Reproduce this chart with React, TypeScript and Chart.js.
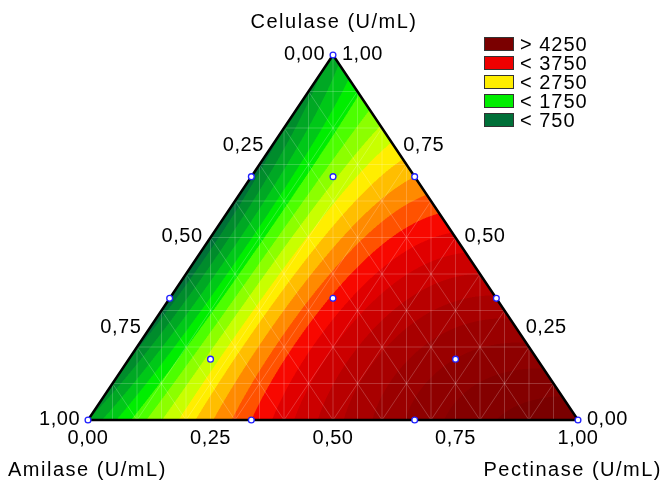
import { useEffect, useRef } from "react";
import { Chart, registerables } from "chart.js";

Chart.register(...registerables);

// ---- data ----
const componentNames = ["Amilase (U/mL)", "Celulase (U/mL)", "Pectinase (U/mL)"];
const tickValues = [0, 0.25, 0.5, 0.75, 1];
const tickLabels = ["0,00", "0,25", "0,50", "0,75", "1,00"];

// design points (mixture proportions)
const designAmilase = [1, 0, 0, 0.6667, 0.3333, 0, 0, 0.6667, 0.3333, 0.3333, 0.1667, 0.6667, 0.1667];
const designCelulase = [0, 1, 0, 0.3333, 0.6667, 0.6667, 0.3333, 0, 0, 0.3333, 0.6667, 0.1667, 0.1667];
const designPectinase = [0, 0, 1, 0, 0, 0.3333, 0.6667, 0.3333, 0.6667, 0.3333, 0.1667, 0.1667, 0.6667];

// fitted special-cubic mixture model
const linearCoef = [1000, 1100, 5700]; // Amilase, Celulase, Pectinase
const binaryCoef = [-2000, 4200, 1650]; // A·C, A·P, C·P
const ternaryCoef = [14000]; // A·C·P

const contourLevels = [750, 1000, 1250, 1500, 1750, 2000, 2250, 2500, 2750, 3000, 3250, 3500, 3750, 4000, 4250, 4500, 4750, 5000, 5250, 5500];
const bandColors = [
  "#007038", "#008c2c", "#00a824", "#00c818", "#00ee00", "#4cff00", "#8cff00", "#c8ff00",
  "#ffee00", "#ffbe00", "#ff8a00", "#ff5200", "#f80800", "#e00000", "#cc0000", "#b80000",
  "#a80000", "#9a0000", "#8e0000", "#840000", "#7a0000",
];

const legendLabels = ["> 4250", "< 3750", "< 2750", "< 1750", "< 750"];
const legendColors = ["#7a0000", "#ee0000", "#ffee00", "#00ee00", "#007038"];

const FONT = "'Liberation Sans', Arial, sans-serif";

function model(a: number, c: number, p: number) {
  return (
    linearCoef[0] * a + linearCoef[1] * c + linearCoef[2] * p +
    binaryCoef[0] * a * c + binaryCoef[1] * a * p + binaryCoef[2] * c * p +
    ternaryCoef[0] * a * c * p
  );
}

function hexToRgb(h: string) {
  const n = parseInt(h.slice(1), 16);
  return [(n >> 16) & 255, (n >> 8) & 255, n & 255];
}

const ternaryPlugin = {
  id: "ternary",
  beforeDatasetsDraw(chart: any) {
    const { ctx, chartArea, scales } = chart;
    const xs = scales.x;
    const ys = scales.y;
    const toPx = (a: number, c: number, p: number) => [xs.getPixelForValue(p + c / 2), ys.getPixelForValue(c)];

    const l = Math.floor(chartArea.left);
    const t = Math.floor(chartArea.top);
    const w = Math.ceil(chartArea.right) - l + 1;
    const h = Math.ceil(chartArea.bottom) - t + 1;
    const off = document.createElement("canvas");
    off.width = w;
    off.height = h;
    const octx = off.getContext("2d")!;
    const img = octx.createImageData(w, h);
    const rgb = bandColors.map(hexToRgb);
    const ss = [0.25, 0.75];
    for (let j = 0; j < h; j++) {
      for (let i = 0; i < w; i++) {
        let r = 0, g = 0, b = 0, n = 0;
        for (const dy of ss) {
          for (const dx of ss) {
            const X = xs.getValueForPixel(l + i + dx);
            const C = ys.getValueForPixel(t + j + dy);
            const P = X - C / 2;
            const A = 1 - C - P;
            if (A < -1e-6 || C < -1e-6 || P < -1e-6) continue;
            const v = model(A, C, P);
            let k = 0;
            while (k < contourLevels.length && v >= contourLevels[k]) k++;
            const col = rgb[k];
            r += col[0]; g += col[1]; b += col[2]; n++;
          }
        }
        if (n > 0) {
          const idx = (j * w + i) * 4;
          img.data[idx] = r / n;
          img.data[idx + 1] = g / n;
          img.data[idx + 2] = b / n;
          img.data[idx + 3] = (255 * n) / 4;
        }
      }
    }
    octx.putImageData(img, 0, 0);
    ctx.save();
    ctx.drawImage(off, l, t);

    // faint mesh
    ctx.strokeStyle = "rgba(255,255,255,0.26)";
    ctx.lineWidth = 0.8;
    const line = (p1: number[], p2: number[]) => {
      ctx.beginPath();
      ctx.moveTo(p1[0], p1[1]);
      ctx.lineTo(p2[0], p2[1]);
      ctx.stroke();
    };
    for (let k = 1; k < 10; k++) {
      const s = k / 10;
      line(toPx(1 - s, s, 0), toPx(0, s, 1 - s));
      line(toPx(s, 1 - s, 0), toPx(s, 0, 1 - s));
      line(toPx(0, 1 - s, s), toPx(1 - s, 0, s));
    }
    for (let k = -9; k <= 9; k++) {
      const d = k / 10;
      const X = (1 + d) / 2;
      ctx.beginPath();
      ctx.moveTo(xs.getPixelForValue(X), ys.getPixelForValue(0));
      ctx.lineTo(xs.getPixelForValue(X), ys.getPixelForValue(1 - Math.abs(d)));
      ctx.stroke();
    }

    // outline
    const v1 = toPx(0, 1, 0), v2 = toPx(1, 0, 0), v3 = toPx(0, 0, 1);
    ctx.beginPath();
    ctx.moveTo(v1[0], v1[1]);
    ctx.lineTo(v2[0], v2[1]);
    ctx.lineTo(v3[0], v3[1]);
    ctx.closePath();
    ctx.strokeStyle = "#000";
    ctx.lineWidth = 2.5;
    ctx.lineJoin = "miter";
    ctx.stroke();
    ctx.restore();
  },
  afterDraw(chart: any) {
    const { ctx, scales } = chart;
    const xs = scales.x;
    const ys = scales.y;
    const toPx = (a: number, c: number, p: number) => [xs.getPixelForValue(p + c / 2), ys.getPixelForValue(c)];
    ctx.save();
    ctx.fillStyle = "#000";
    const setSpacing = (s: string) => { if ("letterSpacing" in ctx) (ctx as any).letterSpacing = s; };

    // ticks
    ctx.font = `20px ${FONT}`;
    setSpacing("0.5px");
    ctx.textBaseline = "middle";
    tickValues.forEach((tv, i) => {
      // Amilase along left edge
      const pa = toPx(tv, 1 - tv, 0);
      ctx.textAlign = "right";
      ctx.fillText(tickLabels[i], pa[0] - 8, pa[1] - 1);
      // Celulase along right edge
      const pc = toPx(0, tv, 1 - tv);
      ctx.textAlign = "left";
      ctx.fillText(tickLabels[i], pc[0] + 9, pc[1] - 1);
      // Pectinase along bottom
      const pp = toPx(1 - tv, 0, tv);
      ctx.textAlign = "center";
      ctx.fillText(tickLabels[i], pp[0], pp[1] + 18);
    });

    // axis titles
    ctx.font = `20px ${FONT}`;
    setSpacing("1.5px");
    ctx.textBaseline = "alphabetic";
    ctx.textAlign = "center";
    ctx.fillText(componentNames[1], 334, 28);
    ctx.textAlign = "left";
    ctx.fillText(componentNames[0], 8, 476);
    ctx.textAlign = "right";
    ctx.fillText(componentNames[2], 662, 476);

    // legend
    ctx.font = `20px ${FONT}`;
    setSpacing("1px");
    ctx.textBaseline = "middle";
    ctx.textAlign = "left";
    legendLabels.forEach((lab, i) => {
      const cy = 44 + i * 19;
      ctx.fillStyle = legendColors[i];
      ctx.fillRect(484, cy - 7, 30, 14);
      ctx.strokeStyle = "#333";
      ctx.lineWidth = 1;
      ctx.strokeRect(484.5, cy - 6.5, 29, 13);
      ctx.fillStyle = "#000";
      ctx.fillText(lab, 520, cy + 1);
    });
    ctx.restore();
  },
};

export default function App() {
  const ref = useRef<HTMLCanvasElement>(null);
  useEffect(() => {
    const points = designAmilase.map((a, i) => ({
      x: designPectinase[i] + designCelulase[i] / 2,
      y: designCelulase[i],
    }));
    const chart = new Chart(ref.current!, {
      type: "scatter",
      data: {
        datasets: [
          {
            data: points,
            pointRadius: 2.9,
            pointBorderWidth: 1.3,
            borderColor: "#2020ff",
            backgroundColor: "#ffffff",
            pointBackgroundColor: "#ffffff",
            pointBorderColor: "#2020ff",
            clip: false as any,
          },
        ],
      },
      options: {
        responsive: false,
        animation: false,
        devicePixelRatio: 1,
        events: [],
        layout: { padding: { left: 88, right: 91, top: 55, bottom: 63 } },
        scales: {
          x: { type: "linear", min: 0, max: 1, display: false },
          y: { type: "linear", min: 0, max: 1, display: false },
        },
        plugins: { legend: { display: false }, tooltip: { enabled: false } },
      },
      plugins: [ternaryPlugin],
    });
    return () => chart.destroy();
  }, []);
  return (
    <div style={{ position: "fixed", left: 0, top: 0, width: 669, height: 483, background: "#fff" }}>
      <canvas ref={ref} width={669} height={483} style={{ display: "block", width: 669, height: 483 }} />
    </div>
  );
}
